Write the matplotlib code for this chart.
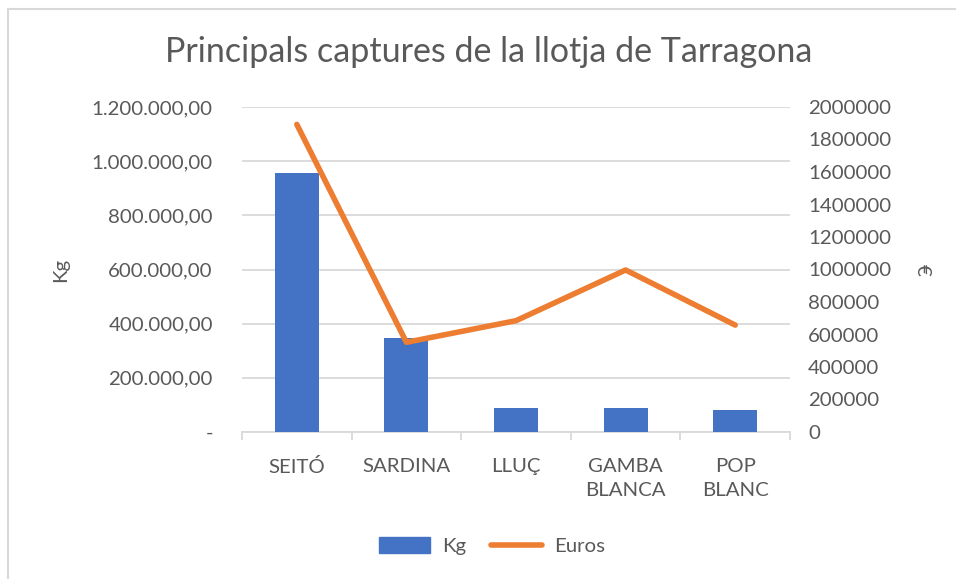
import matplotlib
matplotlib.use("Agg")
import matplotlib.pyplot as plt
from matplotlib.ticker import FuncFormatter, MultipleLocator, FixedLocator, NullFormatter
from matplotlib.lines import Line2D
from matplotlib.patches import Patch

categories = ["SEITÓ", "SARDINA", "LLUÇ", "GAMBA\nBLANCA", "POP\nBLANC"]
kg_values = [958000, 347000, 90000, 90000, 81000]
euro_values = [1893000, 552000, 685000, 997000, 658000]
title = "Principals captures de la llotja de Tarragona"

plt.rcParams['font.family'] = ['Lato', 'DejaVu Sans']
txt = "#595959"
grid = "#d9d9d9"
blue = "#4472c4"
orange = "#ed7d31"
fs = 14.7

fig = plt.figure(figsize=(9.56, 5.79), dpi=100)
W, H = 956, 579
ax = fig.add_axes([242 / W, 1 - 432 / H, (790 - 242) / W, (432 - 107) / H])
ax2 = ax.twinx()

x = list(range(len(categories)))
ax.bar(x, kg_values, width=0.4, color=blue, zorder=3)
ax2.plot(x, euro_values, color=orange, lw=4, solid_capstyle='round', solid_joinstyle='round', zorder=4)

ax.set_xlim(-0.5, len(categories) - 0.5)
ax.set_ylim(0, 1200000)
ax2.set_ylim(0, 2000000)
ax.yaxis.set_major_locator(MultipleLocator(200000))
ax2.yaxis.set_major_locator(MultipleLocator(200000))

def kg_fmt(v, pos):
    if abs(v) < 1e-6:
        return "-"
    s = f"{v:,.2f}"
    return s.replace(",", "X").replace(".", ",").replace("X", ".")

ax.yaxis.set_major_formatter(FuncFormatter(kg_fmt))
ax2.yaxis.set_major_formatter(FuncFormatter(lambda v, p: f"{int(round(v))}"))

ax.grid(axis='y', color=grid, lw=1.3, zorder=0)
ax.set_axisbelow(True)
for a in (ax, ax2):
    for s in a.spines.values():
        s.set_visible(False)
ax.spines['bottom'].set_visible(True)
ax.spines['bottom'].set_color(grid)
ax.spines['bottom'].set_linewidth(1.3)

ax.set_xticks(x)
ax.set_xticklabels(categories, fontsize=fs, color=txt, linespacing=1.45, va='top')
ax.tick_params(axis='x', length=0, pad=19)
ax.xaxis.set_minor_locator(FixedLocator([i - 0.5 for i in range(len(categories) + 1)]))
ax.xaxis.set_minor_formatter(NullFormatter())
ax.tick_params(axis='x', which='minor', length=6, color=grid, width=1.3)

ax.tick_params(axis='y', length=0, pad=21, labelsize=fs, labelcolor=txt)
ax2.tick_params(axis='y', length=0, pad=13, labelsize=fs, labelcolor=txt)

ax.set_ylabel("Kg", fontsize=fs, color=txt, labelpad=16)
ax2.set_ylabel("€", fontsize=fs, color=txt, rotation=-90, labelpad=16, va='bottom')

fig.text(489 / W, 1 - 52 / H, title, fontsize=24.5, color=txt, ha='center', va='center')

handles = [Patch(color=blue), Line2D([0], [0], color=orange, lw=4, solid_capstyle='round')]
fig.legend(handles, ["Kg", "Euros"], loc='center', bbox_to_anchor=(492 / W, 1 - 546 / H),
           ncol=2, frameon=False, fontsize=fs, labelcolor=txt, handlelength=2.5,
           handleheight=0.8, columnspacing=1.2, handletextpad=0.6)

# chart border (left & top visible)
fig.add_artist(Line2D([7.5 / W, 7.5 / W], [0, 1 - 8.5 / H], color=grid, lw=1.5, transform=fig.transFigure))
fig.add_artist(Line2D([7.5 / W, 1], [1 - 8.5 / H, 1 - 8.5 / H], color=grid, lw=1.5, transform=fig.transFigure))

fig.savefig("out.png", dpi=100, facecolor='white')
